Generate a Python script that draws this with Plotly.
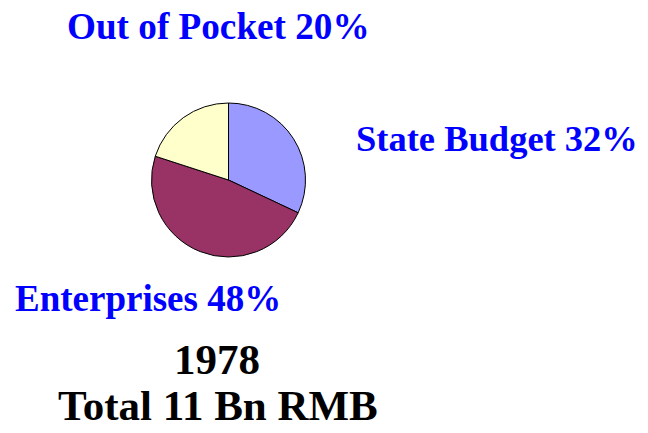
import plotly.graph_objects as go

categories = ["State Budget", "Enterprises", "Out of Pocket"]
shares = [32, 48, 20]
colors = ["#9999FF", "#993366", "#FFFFCC"]
year_label = "1978"
total_label = "Total 11 Bn RMB"

W, H = 648, 433

fig = go.Figure()
fig.add_trace(go.Pie(
    labels=categories,
    values=shares,
    sort=False,
    direction="clockwise",
    rotation=0,
    marker=dict(colors=colors, line=dict(color="black", width=1)),
    textinfo="none",
    hoverinfo="label+percent",
    showlegend=False,
    domain=dict(x=[151 / W, 306 / W], y=[1 - 257 / H, 1 - 103 / H]),
))

fam = "Liberation Serif, Times New Roman, serif"

def ann(text, cx, cy, size, color):
    fig.add_annotation(
        text=f"<b>{text}</b>", x=cx / W, y=1 - cy / H, xref="paper", yref="paper",
        xanchor="center", yanchor="middle", showarrow=False,
        font=dict(family=fam, size=size, color=color),
    )

ann(f"{categories[2]} {shares[2]}%", 218.7, 26.3, 37.2, "#0000FF")
ann(f"{categories[0]} {shares[0]}%", 497.3, 138.3, 36.5, "#0000FF")
ann(f"{categories[1]} {shares[1]}%", 147.5, 298.3, 37, "#0000FF")
ann(year_label, 217.3, 359.5, 43, "#000000")
ann(total_label, 217.5, 405.8, 43, "#000000")

fig.update_layout(
    width=W, height=H,
    margin=dict(l=0, r=0, t=0, b=0),
    paper_bgcolor="white", plot_bgcolor="white",
)

fig.write_html(
    "out.html",
    config={"displayModeBar": False},
    post_script="document.body.style.margin='0';document.body.style.overflow='hidden';",
)
